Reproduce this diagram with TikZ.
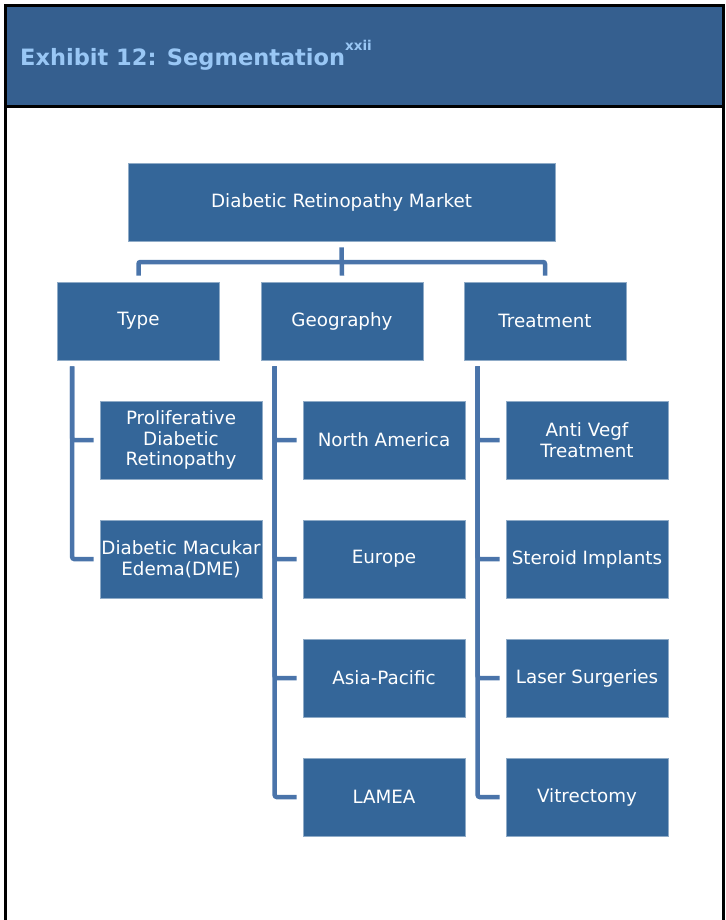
\documentclass[tikz,border=0pt]{standalone}
\usepackage{fontspec}
\setmainfont{DejaVu Sans}
\usetikzlibrary{calc}
\definecolor{headblue}{RGB}{53,95,143}
\definecolor{titleblue}{RGB}{153,199,245}
\definecolor{boxblue}{RGB}{52,102,153}
\definecolor{linkblue}{RGB}{74,116,170}
\tikzset{
	segbox/.style={fill=boxblue, draw=boxblue!55!white, line width=0.6pt, text=white,
		minimum width=162pt, minimum height=78pt, inner sep=0pt, align=center,
		font=\fontsize{18.3}{20.5}\selectfont},
	link/.style={draw=linkblue, line width=4.5pt, rounded corners=2pt},
	frameline/.style={draw=black, line width=3pt},
}

\begin{document}
\begin{tikzpicture}[x=1pt, y=-1pt]
			%%%%% START %%%%%
			\useasboundingbox (0,0) rectangle (725,920);
			
			% header band and frame
			\draw[frameline, fill=headblue] (5, 6) rectangle (723, 107);
			\draw[frameline] (5, 107) -- (5, 920);
			\draw[frameline] (723, 107) -- (723, 920);
			\node[anchor=base west, text=titleblue, inner sep=0pt,
				font=\bfseries\fontsize{22.5}{27}\selectfont] (title) at (20, 66)
				{Exhibit 12: Segmentation\raisebox{15pt}{\fontsize{13.5}{13.5}\selectfont xxii}};
			
			% top levels
			\node[segbox, minimum width=427pt] (market) at (341.5, 202) {Diabetic Retinopathy Market};
			\node[segbox] (type) at (138.5, 321) {Type};
			\node[segbox] (geo) at (342, 321) {Geography};
			\node[segbox] (treat) at (545, 321) {Treatment};
			
			\coordinate (bar) at (342, 262);
			\draw[link] ([yshift=6pt]type.north) |- (bar) -| ([yshift=6pt]treat.north);
			\draw[link] ([yshift=-6pt]market.south) -- ([yshift=6pt]geo.north);
			
			% type
			\node[segbox] (pdr) at (181, 440) {Proliferative\\Diabetic\\Retinopathy};
			\node[segbox] (dme) at (181, 559) {Diabetic Macukar\\Edema(DME)};
			
			% geography
			\node[segbox] (namerica) at (384, 440) {North America};
			\node[segbox] (europe) at (384, 559) {Europe};
			\node[segbox] (apac) at (384, 678) {Asia-Pacific};
			\node[segbox] (lamea) at (384, 797) {LAMEA};
			
			% treatment
			\node[segbox] (antivegf) at (587, 440) {Anti Vegf\\Treatment};
			\node[segbox] (steroid) at (587, 559) {Steroid Implants};
			\node[segbox] (laser) at (587, 678) {Laser Surgeries};
			\node[segbox] (vitrect) at (587, 797) {Vitrectomy};
			
			\foreach \kid in {pdr, dme}
				\draw[link] ([xshift=15pt, yshift=-6pt]type.south west) |- ([xshift=-6pt]\kid.west);
			\foreach \kid in {namerica, europe, apac, lamea}
				\draw[link] ([xshift=14pt, yshift=-6pt]geo.south west) |- ([xshift=-6pt]\kid.west);
			\foreach \kid in {antivegf, steroid, laser, vitrect}
				\draw[link] ([xshift=14pt, yshift=-6pt]treat.south west) |- ([xshift=-6pt]\kid.west);
			
			%%%%% END %%%%%
\end{tikzpicture}
\end{document}
